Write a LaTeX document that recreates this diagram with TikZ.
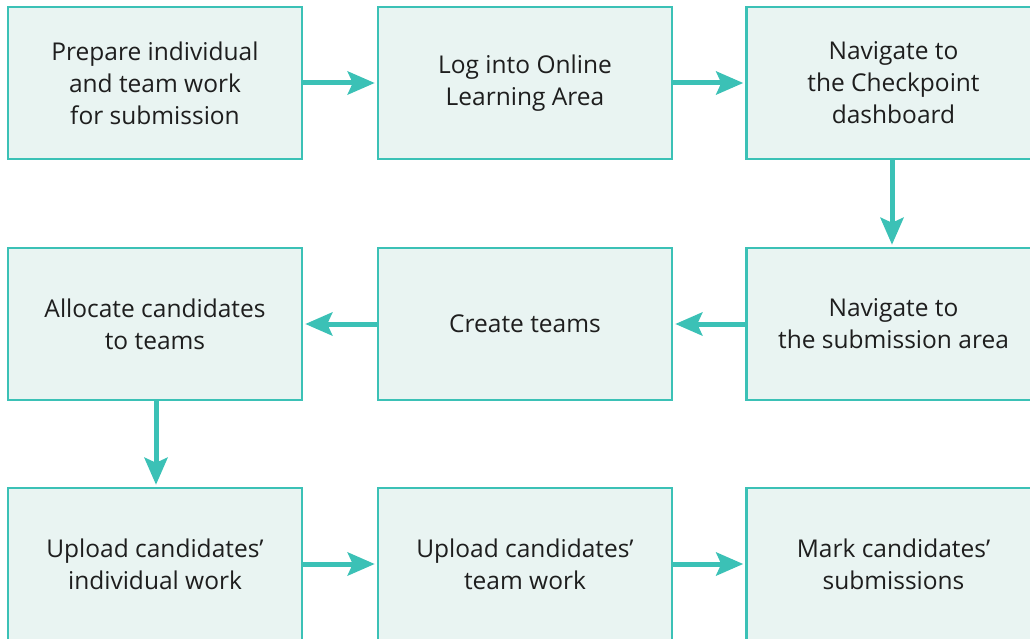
\documentclass[tikz,border=0pt]{standalone}
\usepackage{fontspec}
\setmainfont{Open Sans}
\usetikzlibrary{arrows.meta,positioning}
\definecolor{tealB}{HTML}{3BC1B6}
\definecolor{boxF}{HTML}{E9F4F2}
\definecolor{txt}{HTML}{1E1E1E}
\tikzset{
  stepbox/.style={draw=tealB, fill=boxF, line width=2.5pt, minimum width=294pt, minimum height=152pt, inner sep=0pt,
    align=center, text=txt, font=\fontsize{24.5pt}{32pt}\selectfont},
  flow/.style={draw=tealB, line width=5pt, -{Stealth[length=27pt,width=23pt,inset=5pt]}, shorten >=2pt}
}
\begin{document}
\begin{tikzpicture}[x=1pt,y=-1pt]
\useasboundingbox (0,0) rectangle (1030,639);
\clip (0,0) rectangle (1030,639);
\node[stepbox] (b1) at (155,83) {Prepare individual\\and team work\\for submission};
\node[stepbox] (b2) at (525,83) {Log into Online\\Learning Area};
\node[stepbox] (b3) at (893.5,83) {Navigate to\\the Checkpoint\\dashboard};
\node[stepbox] (b4) at (893.5,324) {Navigate to\\the submission area};
\node[stepbox] (b5) at (525,324) {Create teams};
\node[stepbox] (b6) at (155,324) {Allocate candidates\\to teams};
\node[stepbox] (b7) at (155,564) {Upload candidates’\\individual work};
\node[stepbox] (b8) at (525,564) {Upload candidates’\\team work};
\node[stepbox] (b9) at (893.5,564) {Mark candidates’\\submissions};
\draw[flow] (b1.east) -- (b2.west);
\draw[flow] (b2.east) -- (b3.west);
\draw[flow] ([xshift=-1.5pt]b3.south) -- ([xshift=-1.5pt]b4.north);
\draw[flow] (b4.west) -- (b5.east);
\draw[flow] (b5.west) -- (b6.east);
\draw[flow] ([xshift=1pt]b6.south) -- ([xshift=1pt]b7.north);
\draw[flow] (b7.east) -- (b8.west);
\draw[flow] (b8.east) -- (b9.west);
\end{tikzpicture}
\end{document}
